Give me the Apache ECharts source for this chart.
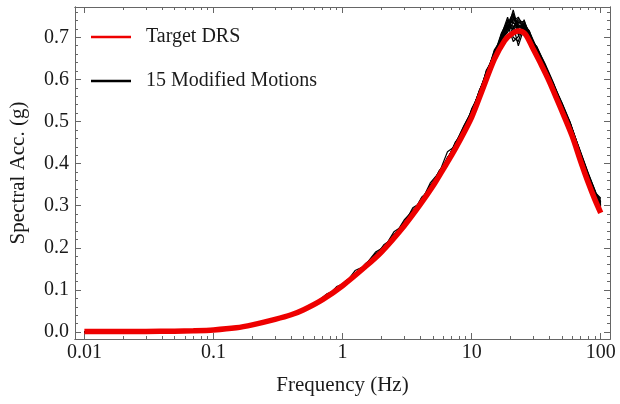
<!DOCTYPE html>
<html>
<head>
<meta charset="utf-8">
<script src="https://cdn.jsdelivr.net/npm/echarts@6/dist/echarts.min.js"></script>
<style>
  html, body { margin: 0; padding: 0; background: #fff; }
  #chart { width: 620px; height: 404px; }
</style>
</head>
<body>
<div id="chart"></div>
<script>
// target design response spectrum
const targetFreqs = [0.01, 0.02, 0.03, 0.05, 0.07, 0.1, 0.15, 0.2, 0.3, 0.4, 0.5, 0.7, 1, 1.5, 2, 3, 4, 5, 6, 7, 8, 10,
  12, 15, 18, 20, 23, 26, 30, 35, 40, 50, 60, 70, 80, 90, 100];
const targetValues = [0.001, 0.001, 0.0015, 0.002, 0.003, 0.005, 0.01, 0.017, 0.03, 0.041, 0.053, 0.077, 0.11, 0.155, 0.19,
  0.252, 0.303, 0.346, 0.386, 0.42, 0.452, 0.51, 0.572, 0.648, 0.692, 0.706, 0.715, 0.708, 0.672, 0.632, 0.595, 0.525,
  0.466, 0.405, 0.355, 0.315, 0.283];

// 15 modified motions
const motionFreqs = [0.01, 0.1, 0.2, 0.3, 0.45, 0.6, 0.75, 0.9, 1.05, 1.25, 1.5, 1.8, 2.1, 2.5, 3.0, 3.5, 4.1, 4.8, 5.6, 6.5,
  7.5, 8.7, 10, 11.5, 13, 15, 17, 19, 21, 23, 25.5, 28, 32, 37, 43, 50, 58, 68, 80, 92, 100];
const motionValues = [
  [0.001,0.005,0.018,0.031,0.048,0.066,0.09,0.101,0.121,0.134,0.158,0.183,0.199,0.229,0.255,0.286,0.311,0.343,0.377,0.41,0.446,0.478,0.522,0.57,0.615,0.662,0.7,0.728,0.742,0.736,0.725,0.708,0.67,0.628,0.585,0.54,0.49,0.428,0.37,0.322,0.3],
  [0.001,0.005,0.017,0.032,0.047,0.065,0.083,0.1,0.116,0.138,0.156,0.18,0.208,0.224,0.26,0.28,0.315,0.341,0.38,0.405,0.44,0.482,0.515,0.566,0.61,0.655,0.695,0.712,0.735,0.722,0.73,0.7,0.672,0.625,0.58,0.535,0.488,0.425,0.365,0.318,0.295],
  [0.001,0.006,0.018,0.03,0.049,0.065,0.085,0.102,0.118,0.135,0.16,0.179,0.2,0.238,0.254,0.29,0.31,0.345,0.372,0.415,0.44,0.475,0.53,0.565,0.62,0.66,0.705,0.748,0.7,0.69,0.735,0.71,0.665,0.63,0.578,0.538,0.49,0.43,0.372,0.325,0.31],
  [0.001,0.005,0.017,0.031,0.048,0.067,0.082,0.104,0.115,0.146,0.157,0.182,0.198,0.226,0.258,0.282,0.32,0.34,0.382,0.408,0.45,0.48,0.518,0.575,0.608,0.665,0.69,0.72,0.755,0.728,0.72,0.705,0.675,0.632,0.588,0.542,0.495,0.432,0.368,0.32,0.305],
  [0.001,0.005,0.018,0.031,0.047,0.066,0.084,0.1,0.119,0.136,0.162,0.18,0.202,0.232,0.256,0.284,0.312,0.35,0.375,0.412,0.445,0.488,0.525,0.562,0.612,0.658,0.698,0.725,0.728,0.68,0.722,0.712,0.668,0.622,0.582,0.532,0.486,0.422,0.362,0.315,0.292],
  [0.001,0.005,0.017,0.03,0.048,0.065,0.083,0.103,0.117,0.134,0.156,0.186,0.2,0.225,0.262,0.281,0.313,0.339,0.378,0.428,0.442,0.476,0.52,0.572,0.618,0.652,0.702,0.735,0.738,0.748,0.718,0.698,0.678,0.635,0.59,0.545,0.498,0.435,0.375,0.328,0.315],
  [0.001,0.005,0.018,0.032,0.049,0.064,0.086,0.101,0.114,0.137,0.159,0.181,0.203,0.228,0.257,0.295,0.308,0.346,0.371,0.409,0.452,0.472,0.528,0.568,0.605,0.668,0.688,0.742,0.722,0.745,0.73,0.715,0.662,0.628,0.576,0.536,0.484,0.426,0.366,0.318,0.298],
  [0.001,0.005,0.017,0.031,0.047,0.066,0.083,0.099,0.12,0.133,0.155,0.179,0.198,0.227,0.253,0.279,0.316,0.342,0.383,0.406,0.438,0.485,0.512,0.558,0.622,0.65,0.708,0.718,0.765,0.72,0.715,0.695,0.67,0.618,0.584,0.53,0.492,0.43,0.36,0.322,0.302],
  [0.001,0.006,0.018,0.031,0.048,0.065,0.082,0.1,0.117,0.139,0.157,0.178,0.201,0.223,0.259,0.283,0.309,0.338,0.376,0.411,0.448,0.49,0.524,0.572,0.611,0.664,0.692,0.73,0.69,0.702,0.742,0.702,0.676,0.638,0.592,0.54,0.494,0.438,0.378,0.33,0.308],
  [0.001,0.005,0.017,0.03,0.047,0.064,0.084,0.102,0.116,0.135,0.161,0.184,0.204,0.226,0.254,0.285,0.314,0.347,0.374,0.404,0.443,0.481,0.516,0.564,0.606,0.656,0.7,0.722,0.75,0.712,0.725,0.704,0.664,0.626,0.586,0.538,0.487,0.424,0.364,0.316,0.296],
  [0.001,0.005,0.018,0.031,0.048,0.066,0.085,0.101,0.118,0.136,0.158,0.18,0.199,0.231,0.256,0.28,0.311,0.355,0.379,0.407,0.447,0.474,0.521,0.57,0.616,0.66,0.71,0.738,0.715,0.735,0.738,0.71,0.672,0.633,0.583,0.544,0.496,0.434,0.37,0.324,0.312],
  [0.001,0.005,0.017,0.031,0.049,0.065,0.083,0.103,0.115,0.134,0.156,0.182,0.2,0.228,0.261,0.286,0.31,0.341,0.373,0.414,0.439,0.483,0.519,0.566,0.609,0.67,0.696,0.715,0.745,0.732,0.712,0.706,0.666,0.62,0.58,0.534,0.489,0.428,0.367,0.32,0.3],
  [0.001,0.005,0.018,0.03,0.048,0.067,0.084,0.1,0.12,0.138,0.159,0.19,0.202,0.224,0.255,0.282,0.318,0.34,0.381,0.41,0.444,0.477,0.526,0.561,0.614,0.654,0.704,0.732,0.758,0.705,0.728,0.714,0.674,0.63,0.589,0.537,0.491,0.433,0.373,0.326,0.306],
  [0.001,0.005,0.017,0.031,0.047,0.065,0.083,0.108,0.116,0.137,0.157,0.181,0.198,0.229,0.257,0.284,0.312,0.348,0.375,0.406,0.449,0.486,0.514,0.568,0.607,0.659,0.694,0.726,0.72,0.74,0.722,0.702,0.668,0.627,0.587,0.541,0.493,0.427,0.371,0.323,0.303],
  [0.001,0.005,0.018,0.032,0.048,0.066,0.082,0.102,0.119,0.135,0.16,0.183,0.201,0.227,0.266,0.288,0.309,0.343,0.38,0.413,0.441,0.473,0.523,0.574,0.613,0.663,0.699,0.74,0.735,0.725,0.732,0.708,0.671,0.634,0.583,0.539,0.497,0.436,0.376,0.329,0.318]
];

// axis ticks
const freqTicks = [0.01, 0.1, 1, 10, 100];
const freqTickLabels = ['0.01', '0.1', '1', '10', '100'];
const freqMinorTicks = [];
[0.01, 0.1, 1, 10].forEach(d => { for (let k = 2; k <= 9; k++) freqMinorTicks.push(+(d * k).toPrecision(3)); });
const accTicks = [0, 0.1, 0.2, 0.3, 0.4, 0.5, 0.6, 0.7];
const accTickLabels = ['0.0', '0.1', '0.2', '0.3', '0.4', '0.5', '0.6', '0.7'];
const accMinorTicks = [0.02, 0.04, 0.06, 0.08, 0.12, 0.14, 0.16, 0.18, 0.22, 0.24, 0.26, 0.28, 0.32, 0.34, 0.36, 0.38,
  0.42, 0.44, 0.46, 0.48, 0.52, 0.54, 0.56, 0.58, 0.62, 0.64, 0.66, 0.68, 0.72, 0.74, 0.76];

const FONT = 'Liberation Serif';
const FRAME = '#666';
const X_MIN = 0.00846, X_MAX = 118;
const Y_MIN = -0.0166, Y_MAX = 0.772;

function xAxisOf(pos, ticks, len, labels) {
  return {
    type: 'log', position: pos, min: X_MIN, max: X_MAX,
    axisLine: { show: true, onZero: false, lineStyle: { color: FRAME, width: 1 } },
    splitLine: { show: false },
    minorTick: { show: false },
    axisTick: { show: true, inside: true, length: len, customValues: ticks, lineStyle: { color: FRAME, width: 1 } },
    axisLabel: labels ? {
      customValues: freqTicks, margin: 4, color: '#1a1a1a', fontFamily: FONT, fontSize: 20,
      formatter: v => freqTickLabels[freqTicks.findIndex(t => Math.abs(Math.log10(t) - Math.log10(v)) < 1e-6)]
    } : { show: false }
  };
}
function yAxisOf(pos, ticks, len, labels) {
  return {
    type: 'value', position: pos, min: Y_MIN, max: Y_MAX,
    axisLine: { show: true, onZero: false, lineStyle: { color: FRAME, width: 1 } },
    splitLine: { show: false },
    axisTick: { show: true, inside: true, length: len, customValues: ticks, lineStyle: { color: FRAME, width: 1 } },
    axisLabel: labels ? {
      customValues: accTicks, margin: 6, color: '#1a1a1a', fontFamily: FONT, fontSize: 20,
      formatter: v => accTickLabels[Math.round(v * 10)]
    } : { show: false }
  };
}

const xAxes = [
  xAxisOf('bottom', freqTicks, 6, true),
  xAxisOf('bottom', freqMinorTicks, 3, false),
  xAxisOf('top', freqTicks, 6, false),
  xAxisOf('top', freqMinorTicks, 3, false)
];
Object.assign(xAxes[0], {
  name: 'Frequency (Hz)', nameLocation: 'middle', nameGap: 36,
  nameTextStyle: { color: '#1a1a1a', fontFamily: FONT, fontSize: 21 }
});
const yAxes = [
  yAxisOf('left', accTicks, 6, true),
  yAxisOf('left', accMinorTicks, 3, false),
  yAxisOf('right', accTicks, 6, false),
  yAxisOf('right', accMinorTicks, 3, false)
];
Object.assign(yAxes[0], {
  name: 'Spectral Acc. (g)', nameLocation: 'middle', nameGap: 46,
  nameTextStyle: { color: '#1a1a1a', fontFamily: FONT, fontSize: 21 }
});

const series = motionValues.map((vals, i) => ({
  name: i === 0 ? '15 Modified Motions' : 'motion' + (i + 1),
  type: 'line',
  symbol: 'none',
  xAxisIndex: 0, yAxisIndex: 0,
  lineStyle: { color: '#000', width: 1.2 },
  itemStyle: { color: '#000' },
  data: motionFreqs.map((f, j) => [f, vals[j]])
}));
series.push({
  name: 'Target DRS',
  type: 'line',
  symbol: 'none',
  smooth: 0.3,
  xAxisIndex: 0, yAxisIndex: 0,
  z: 5,
  lineStyle: { color: '#ee0000', width: 5.5 },
  itemStyle: { color: '#ee0000' },
  data: targetFreqs.map((f, j) => [f, targetValues[j]])
});

const chart = echarts.init(document.getElementById('chart'));
chart.setOption({
  animation: false,
  backgroundColor: '#fff',
  grid: { left: 73, right: 10, top: 7, bottom: 65, show: false },
  legend: {
    data: ['Target DRS', '15 Modified Motions'],
    orient: 'vertical',
    left: 86, top: 20,
    icon: 'rect',
    itemWidth: 40, itemHeight: 2.5, itemGap: 20,
    textStyle: { color: '#1a1a1a', fontFamily: FONT, fontSize: 20, lineHeight: 24, padding: [0, 0, 0, 10] }
  },
  xAxis: xAxes,
  yAxis: yAxes,
  series: series
});
</script>
</body>
</html>
